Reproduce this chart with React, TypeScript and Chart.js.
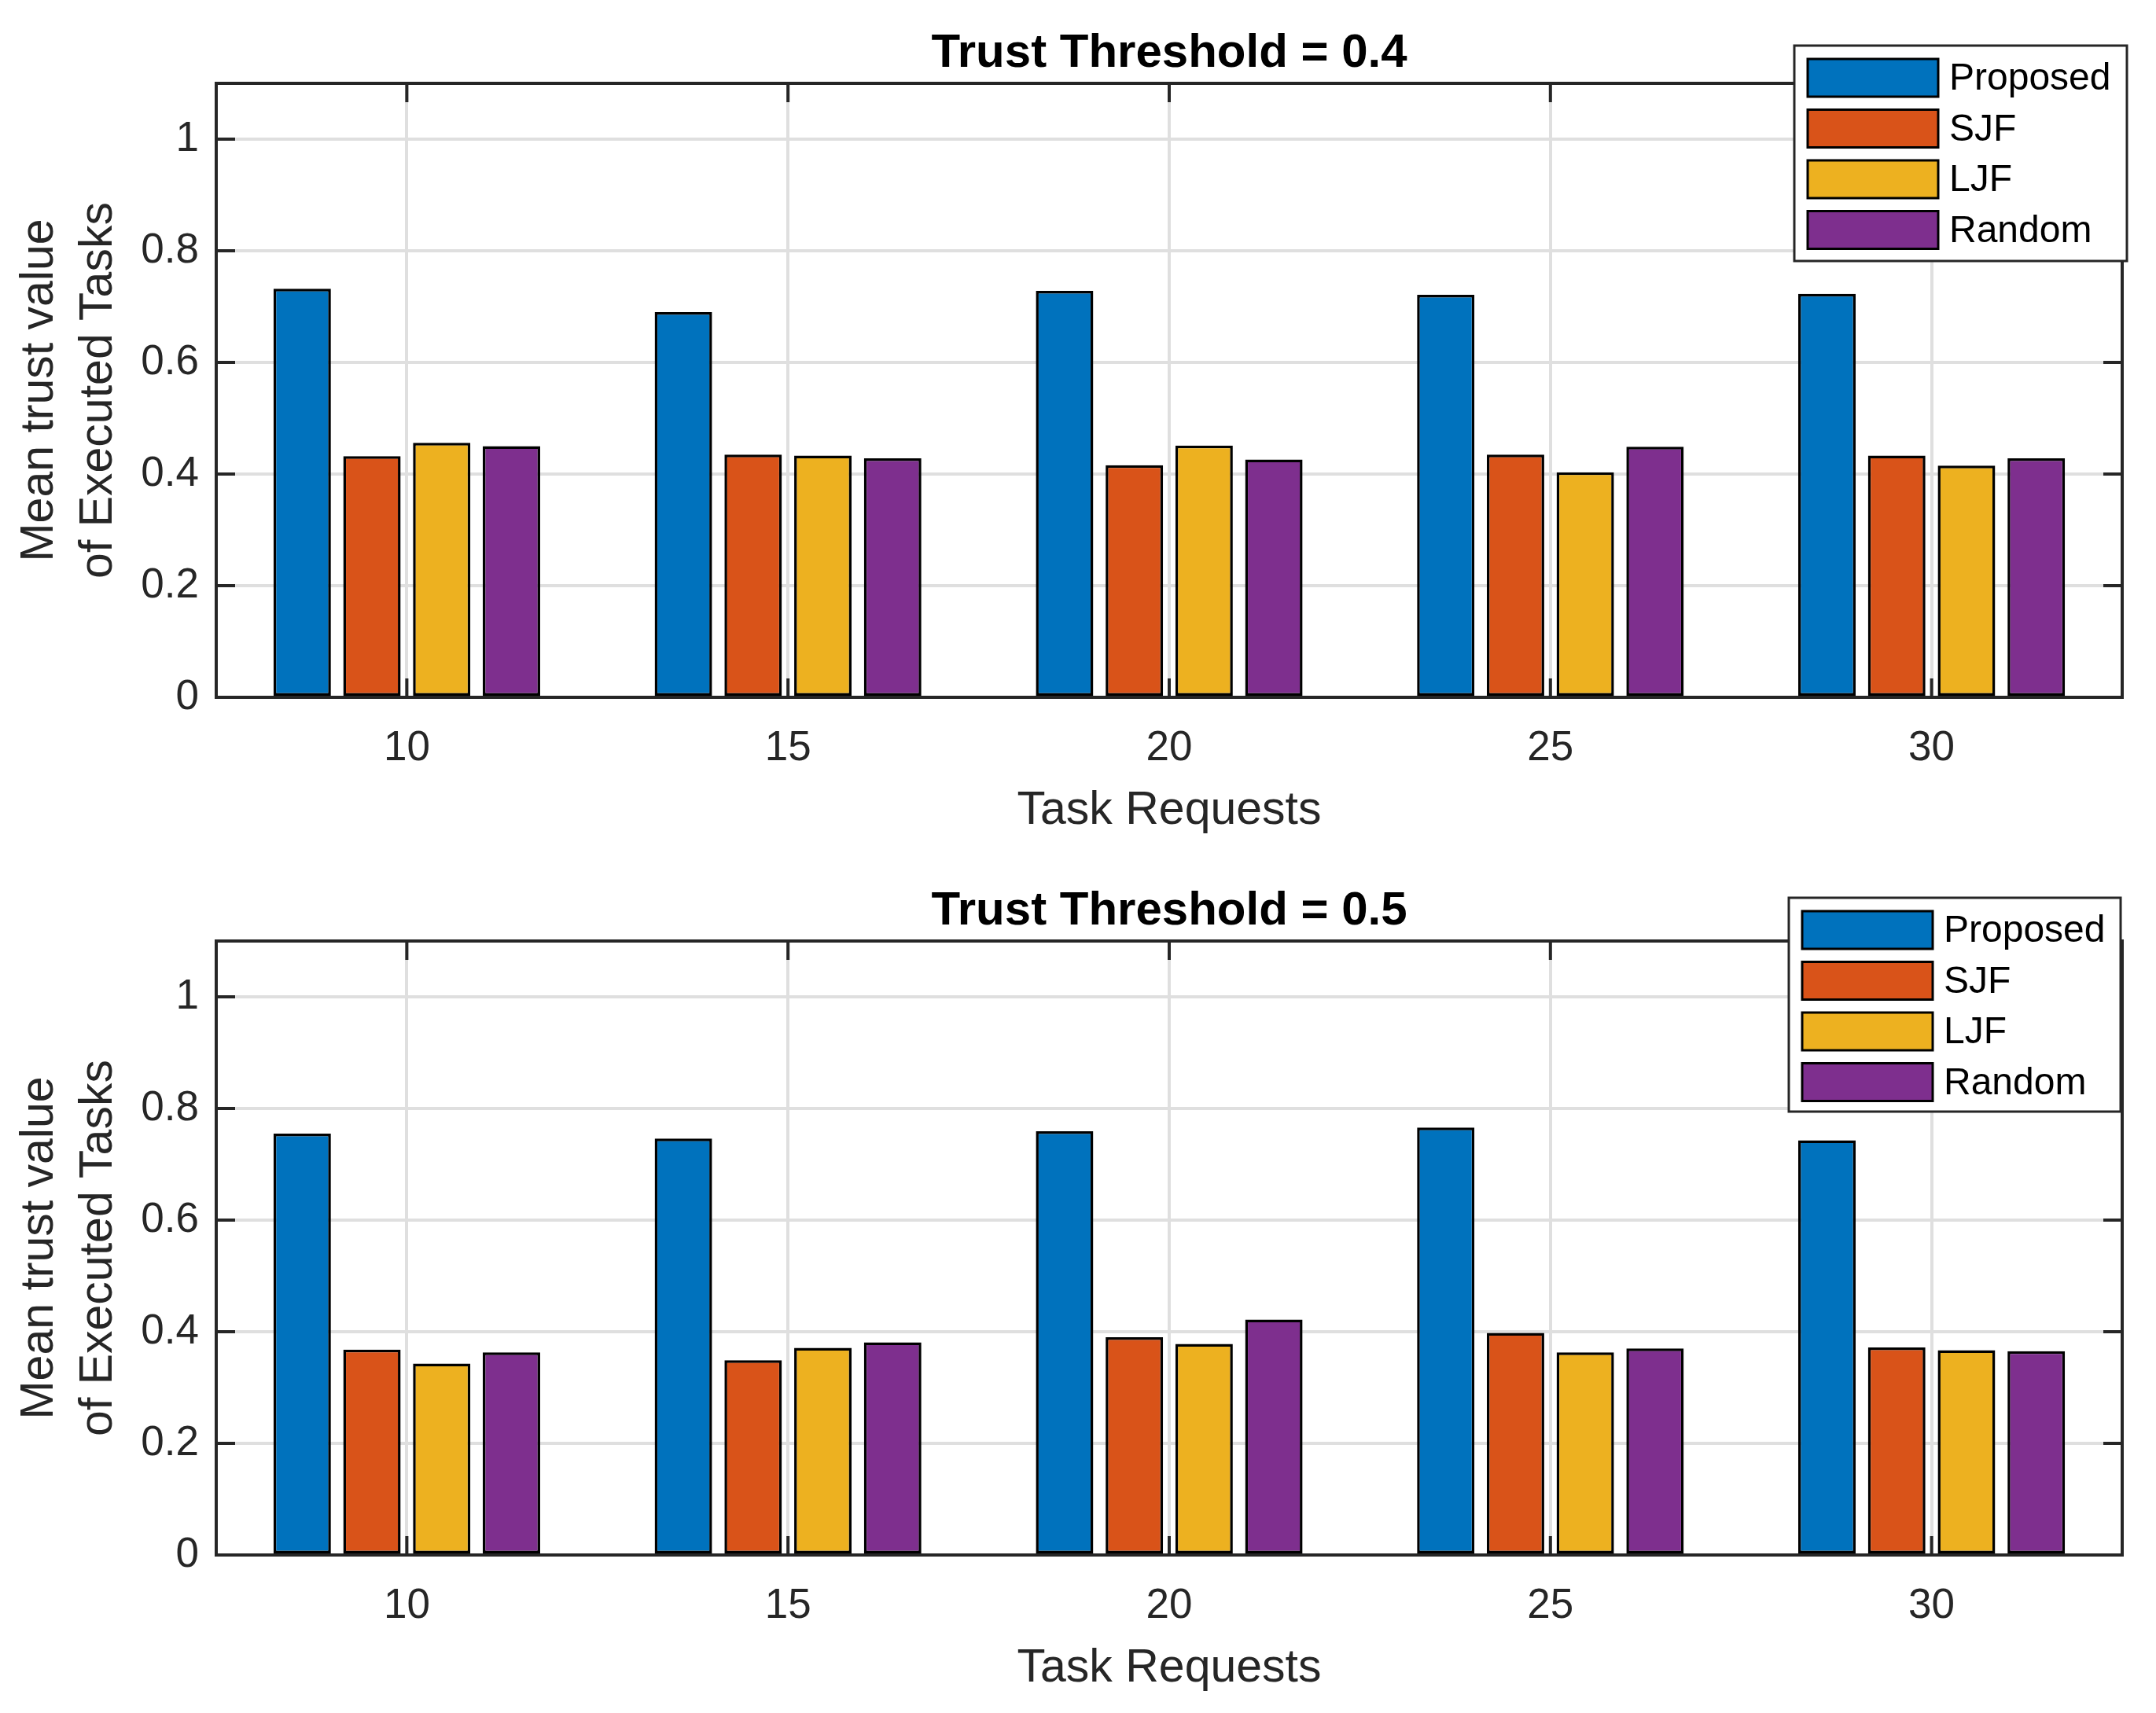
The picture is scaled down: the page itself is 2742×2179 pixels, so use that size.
import React, { useEffect, useRef } from 'react';
import { Chart, registerables } from 'chart.js';

Chart.register(...registerables);

// ---- data ----
const categories = ['10', '15', '20', '25', '30'];
const seriesNames = ['Proposed', 'SJF', 'LJF', 'Random'];
const seriesColors = ['#0072BD', '#D95319', '#EDB120', '#7E2F8E'];

const proposed04 = [0.732, 0.690, 0.728, 0.721, 0.723];
const sjf04 = [0.432, 0.435, 0.416, 0.435, 0.433];
const ljf04 = [0.456, 0.433, 0.451, 0.403, 0.415];
const random04 = [0.450, 0.428, 0.426, 0.449, 0.428];

const proposed05 = [0.755, 0.746, 0.759, 0.766, 0.743];
const sjf05 = [0.368, 0.349, 0.390, 0.398, 0.372];
const ljf05 = [0.343, 0.371, 0.378, 0.363, 0.367];
const random05 = [0.363, 0.381, 0.422, 0.370, 0.365];

const yMin = 0;
const yMax = 1.1;
const yStep = 0.2;

const titles = ['Trust Threshold = 0.4', 'Trust Threshold = 0.5'];
const xTitle = 'Task Requests';
const yTitle = ['Mean trust value', 'of Executed Tasks'];

const FONT = "'Liberation Sans', Arial, Helvetica, sans-serif";
const AXIS_COLOR = '#262626';
const GRID_COLOR = '#dfdfdf';

type LegendBox = { x: number; y: number; w: number; h: number };

type PanelProps = {
  title: string;
  series: number[][];
  width: number;
  height: number;
  areaBottom: number;
  titlePad: { top: number; bottom: number };
  xTitlePadBottom: number;
  legendBox: LegendBox;
};

const framePlugin = {
  id: 'matlabFrame',
  beforeDatasetsDraw(chart: any) {
    const { ctx, chartArea: a, scales } = chart;
    const x = scales.x;
    const y = scales.y;
    const tl = 24;
    ctx.save();
    ctx.strokeStyle = AXIS_COLOR;
    ctx.lineWidth = 4;
    ctx.beginPath();
    x.ticks.forEach((_t: any, i: number) => {
      const px = x.getPixelForTick(i);
      ctx.moveTo(px, a.bottom);
      ctx.lineTo(px, a.bottom - tl);
      ctx.moveTo(px, a.top);
      ctx.lineTo(px, a.top + tl);
    });
    y.ticks.forEach((_t: any, i: number) => {
      const py = y.getPixelForTick(i);
      ctx.moveTo(a.left, py);
      ctx.lineTo(a.left + tl, py);
      ctx.moveTo(a.right, py);
      ctx.lineTo(a.right - tl, py);
    });
    ctx.stroke();
    ctx.strokeRect(a.left, a.top, a.right - a.left, a.bottom - a.top);
    ctx.restore();
  },
};

const legendPlugin = {
  id: 'matlabLegend',
  afterDraw(chart: any, _args: any, opts: any) {
    const box: LegendBox = opts.box;
    if (!box) return;
    const { ctx } = chart;
    ctx.save();
    ctx.fillStyle = '#ffffff';
    ctx.fillRect(box.x, box.y, box.w, box.h);
    ctx.strokeStyle = AXIS_COLOR;
    ctx.lineWidth = 3;
    ctx.strokeRect(box.x, box.y, box.w, box.h);
    const sw = 166;
    const sh = 48;
    const pitch = 64.5;
    const sx = box.x + 17;
    const sy0 = box.y + 17;
    chart.data.datasets.forEach((ds: any, i: number) => {
      const sy = sy0 + i * pitch;
      ctx.fillStyle = ds.backgroundColor;
      ctx.fillRect(sx, sy, sw, sh);
      ctx.strokeStyle = '#000000';
      ctx.lineWidth = 3;
      ctx.strokeRect(sx, sy, sw, sh);
      ctx.fillStyle = '#000000';
      ctx.font = `48px ${FONT}`;
      ctx.textAlign = 'left';
      ctx.textBaseline = 'middle';
      ctx.fillText(ds.label, sx + sw + 14, sy + sh / 2 + 2);
    });
    ctx.restore();
  },
};

function Panel(props: PanelProps) {
  const ref = useRef<HTMLCanvasElement | null>(null);
  useEffect(() => {
    if (!ref.current) return;
    const chart = new Chart(ref.current, {
      type: 'bar',
      data: {
        labels: categories,
        datasets: props.series.map((vals, i) => ({
          label: seriesNames[i],
          data: vals,
          backgroundColor: seriesColors[i],
          borderColor: '#000000',
          borderWidth: 3.5,
          borderSkipped: false,
          categoryPercentage: 0.732,
          barPercentage: 0.823,
        })),
      },
      options: {
        responsive: false,
        animation: false,
        devicePixelRatio: 1,
        layout: { padding: { left: 0, right: 43, top: 0, bottom: 0 } },
        plugins: {
          legend: { display: false },
          tooltip: { enabled: false },
          title: {
            display: true,
            fullSize: false,
            text: props.title,
            color: '#000000',
            font: { family: FONT, size: 60, weight: 'bold', lineHeight: 1.2 },
            padding: props.titlePad,
          },
          matlabLegend: { box: props.legendBox },
        } as any,
        scales: {
          x: {
            type: 'category',
            offset: true,
            grid: { offset: false, color: GRID_COLOR, lineWidth: 4, drawTicks: false },
            border: { display: false },
            ticks: {
              color: AXIS_COLOR,
              font: { family: FONT, size: 53, lineHeight: 1.2 },
              padding: 34,
              maxRotation: 0,
            },
            title: {
              display: true,
              text: xTitle,
              color: AXIS_COLOR,
              font: { family: FONT, size: 59, lineHeight: 1.2 },
              padding: { top: 0, bottom: props.xTitlePadBottom },
            },
            afterFit: (scale: any) => {
              scale.height = props.height - props.areaBottom;
            },
          },
          y: {
            type: 'linear',
            min: yMin,
            max: yMax,
            grid: { color: GRID_COLOR, lineWidth: 4, drawTicks: false },
            border: { display: false },
            ticks: {
              stepSize: yStep,
              includeBounds: false,
              color: AXIS_COLOR,
              font: { family: FONT, size: 53, lineHeight: 1.2 },
              padding: 22,
              callback: (v: any) => String(Number(Number(v).toFixed(1))),
            },
            title: {
              display: true,
              text: yTitle,
              color: AXIS_COLOR,
              font: { family: FONT, size: 59, lineHeight: 1.27 },
              padding: { top: 13.5, bottom: 0 },
            },
            afterFit: (scale: any) => {
              scale.width = 275;
            },
          },
        },
      } as any,
      plugins: [framePlugin, legendPlugin],
    });
    return () => chart.destroy();
  }, []);
  return (
    <canvas
      ref={ref}
      width={props.width}
      height={props.height}
      style={{ display: 'block', width: props.width, height: props.height }}
    />
  );
}

export default function App() {
  return (
    <div
      style={{
        position: 'absolute',
        left: 0,
        top: 0,
        width: 2742,
        height: 2179,
        background: '#ffffff',
        overflow: 'hidden',
      }}
    >
      <div style={{ position: 'absolute', left: 0, top: 0 }}>
        <Panel
          title={titles[0]}
          series={[proposed04, sjf04, ljf04, random04]}
          width={2742}
          height={1090}
          areaBottom={887}
          titlePad={{ top: 32, bottom: 2 }}
          xTitlePadBottom={23}
          legendBox={{ x: 2282, y: 58, w: 423, h: 274 }}
        />
      </div>
      <div style={{ position: 'absolute', left: 0, top: 1090 }}>
        <Panel
          title={titles[1]}
          series={[proposed05, sjf05, ljf05, random05]}
          width={2742}
          height={1089}
          areaBottom={888}
          titlePad={{ top: 33, bottom: 2 }}
          xTitlePadBottom={21}
          legendBox={{ x: 2275, y: 52, w: 422, h: 272 }}
        />
      </div>
    </div>
  );
}
